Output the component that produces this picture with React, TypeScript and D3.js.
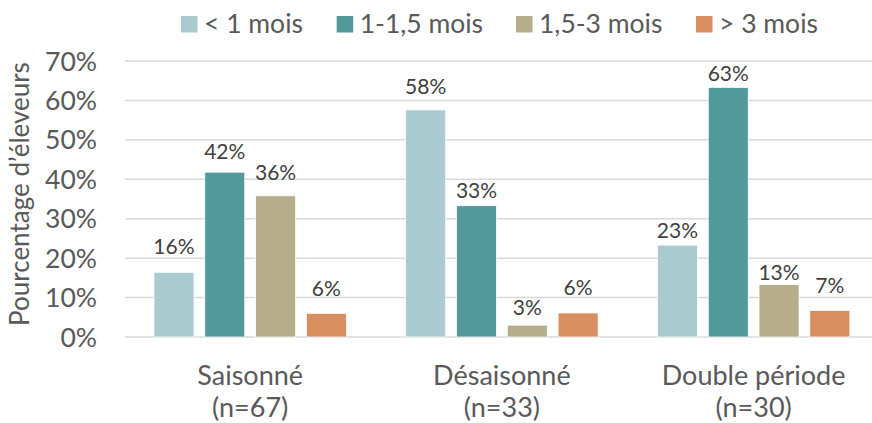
import React from "react";
import * as d3 from "d3";

const categories = ["Saisonné", "Désaisonné", "Double période"];
const sampleSizes = ["(n=67)", "(n=33)", "(n=30)"];
const seriesNames = ["< 1 mois", "1-1,5 mois", "1,5-3 mois", "> 3 mois"];
const seriesLessThan1 = [0.164, 0.576, 0.233];
const series1to15 = [0.418, 0.333, 0.633];
const series15to3 = [0.358, 0.03, 0.133];
const seriesOver3 = [0.06, 0.061, 0.067];
const valueLabels = [
  ["16%", "58%", "23%"],
  ["42%", "33%", "63%"],
  ["36%", "3%", "13%"],
  ["6%", "6%", "7%"],
];
const yTicks = [0, 0.1, 0.2, 0.3, 0.4, 0.5, 0.6, 0.7];
const colors = ["#A9CBCF", "#53999C", "#B5AD8B", "#D98E62"];

const allSeries = [seriesLessThan1, series1to15, series15to3, seriesOver3];

// layout: gap (px) between bar top and its label baseline, as placed in the original
const labelGap = [
  [18, 15.7, 7],
  [13, 7.3, 6.3],
  [16.3, 10.3, 4.7],
  [17.7, 18, 18],
];

const W = 872;
const H = 423;
const FONT = "Lato, 'Open Sans', sans-serif";

export default function App() {
  const y = d3.scaleLinear().domain([0, 0.7]).range([337, 61]);
  const x0 = d3.scaleBand<string>().domain(categories).range([124.3, 879.5]).padding(0);
  const x1 = d3
    .scaleBand<string>()
    .domain(seriesNames)
    .range([0, x0.bandwidth()])
    .paddingInner(0.213)
    .paddingOuter(0.584);
  const pct = d3.format(".0%");
  const legendX = [181, 336.7, 516, 696];

  return (
    <svg
      width={W}
      height={H}
      style={{ position: "fixed", left: 0, top: 0, background: "#fff" }}
      fontFamily={FONT}
    >
      <rect x={0} y={0} width={W} height={H} fill="#fff" />
      {yTicks.map((t) => (
        <line
          key={"g" + t}
          x1={125}
          x2={880}
          y1={y(t)}
          y2={y(t)}
          stroke="#D9D9D9"
          strokeWidth={1.5}
        />
      ))}
      {yTicks.map((t) => (
        <text
          key={"t" + t}
          x={97}
          y={y(t)}
          dy="0.36em"
          textAnchor="end"
          fontSize={26.5}
          fill="#595959"
        >
          {pct(t)}
        </text>
      ))}
      <text
        transform={`translate(28.5,194) rotate(-90)`}
        textAnchor="middle"
        fontSize={26}
        fill="#595959"
      >
        Pourcentage d’éleveurs
      </text>
      {allSeries.map((vals, si) =>
        categories.map((c, ci) => {
          const bx = (x0(c) as number) + (x1(seriesNames[si]) as number);
          const by = y(vals[ci]);
          return (
            <g key={`b${si}-${ci}`}>
              <rect
                x={bx}
                y={by}
                width={x1.bandwidth()}
                height={y(0) - by}
                fill={colors[si]}
                stroke="#fff"
                strokeWidth={0.75}
              />
              <text
                x={bx + x1.bandwidth() / 2}
                y={by - labelGap[si][ci]}
                textAnchor="middle"
                fontSize={21}
                fill="#404040"
              >
                {valueLabels[si][ci]}
              </text>
            </g>
          );
        })
      )}
      {categories.map((c, ci) => {
        const cx = (x0(c) as number) + x0.bandwidth() / 2;
        return (
          <g key={"c" + c}>
            <text x={cx} y={385} textAnchor="middle" fontSize={27} fill="#595959">
              {c}
            </text>
            <text x={cx} y={417} textAnchor="middle" fontSize={27} fill="#595959">
              {sampleSizes[ci]}
            </text>
          </g>
        );
      })}
      {seriesNames.map((s, si) => (
        <g key={"l" + s}>
          <rect x={legendX[si]} y={16} width={16.5} height={16.5} fill={colors[si]} />
          <text x={legendX[si] + 23} y={33} fontSize={26.5} fill="#595959">
            {s}
          </text>
        </g>
      ))}
    </svg>
  );
}
